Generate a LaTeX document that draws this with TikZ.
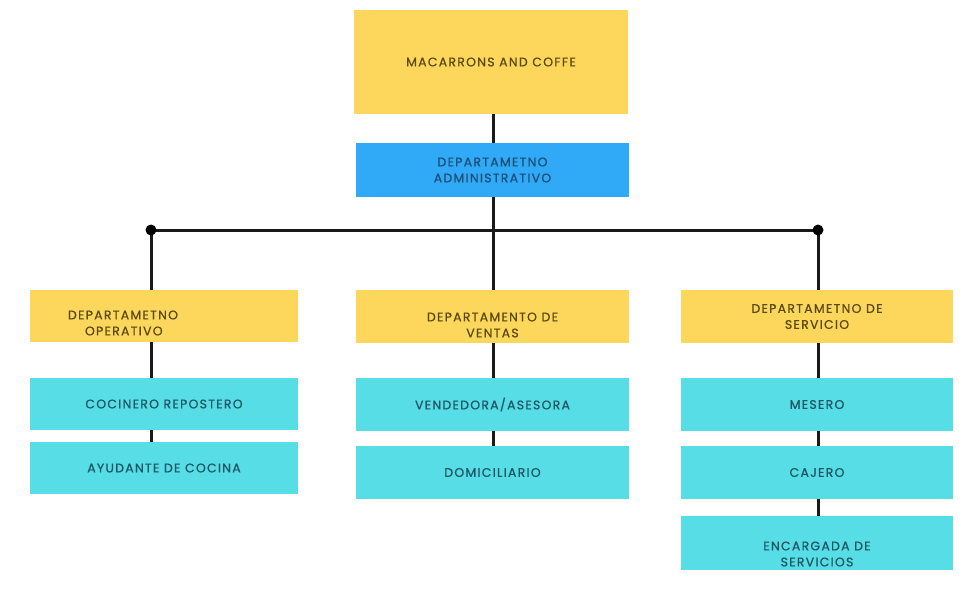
\documentclass[tikz,border=0pt]{standalone}
\usepackage{fontspec}
\setmainfont{Poppins}[LetterSpace=10, FakeBold=0.7]
\begin{document}
\begin{tikzpicture}[x=1pt,y=-1pt,
  every node/.style={inner sep=0pt, outer sep=0pt, font=\fontsize{12.5}{16}\selectfont, align=center},
  ybox/.style={fill=myyellow, text=ytext, minimum width=272pt, minimum height=53pt},
  bbox/.style={fill=myblue, text=btext, minimum width=273pt, minimum height=54pt},
  cbox/.style={fill=mycyan, text=ctext, minimum width=272pt, minimum height=53pt},
  link/.style={line width=3pt, draw=black!90},
  dot/.style={circle, fill=black, minimum size=11pt}
]
\definecolor{myyellow}{HTML}{FDD75C}
\definecolor{myblue}{HTML}{30AAF6}
\definecolor{mycyan}{HTML}{56DDE6}
\definecolor{ytext}{HTML}{5A4A14}
\definecolor{btext}{HTML}{1C4E78}
\definecolor{ctext}{HTML}{1E5664}
\useasboundingbox[fill=white] (0,0) rectangle (971,590);

\node[fill=myyellow, text=ytext, minimum width=274pt, minimum height=104pt] (top) at (491,62) {MACARRONS AND COFFE};
\node[bbox] (adm) at (492.5,170) {DEPARTAMETNO\\ADMINISTRATIVO};

\coordinate (jl) at (151,230);
\coordinate (jm) at (493,230);
\coordinate (jr) at (818,230);

% left column
\node[ybox, minimum width=268pt, minimum height=52pt] (dop) at (164,316) {};
\node[text=ytext, align=left] (dopt) at (123,323) {DEPARTAMETNO\\\hspace*{17pt}OPERATIVO};
\node[cbox, minimum width=268pt, minimum height=52pt] (coc) at (164,404) {COCINERO REPOSTERO};
\node[cbox, minimum width=268pt, minimum height=52pt] (ayu) at (164,468) {AYUDANTE DE COCINA};

% middle column
\node[ybox, minimum width=273pt] (ven) at (492.5,316.5) {};
\node[text=ytext] (vent) at (492.5,325) {DEPARTAMENTO DE\\VENTAS};
\node[cbox, minimum width=273pt] (vend) at (492.5,404.5) {VENDEDORA/ASESORA};
\node[cbox, minimum width=273pt] (dom) at (492.5,472.5) {DOMICILIARIO};

% right column
\node[ybox] (ser) at (817,316.5) {DEPARTAMETNO DE\\SERVICIO};
\node[cbox] (mes) at (817,404.5) {MESERO};
\node[cbox] (caj) at (817,472.5) {CAJERO};
\node[cbox, minimum height=54pt] (enc) at (817,543) {};
\node[text=ctext] (enct) at (817,554) {ENCARGADA DE\\SERVICIOS};

% connectors
\draw[link] (top.south -| jm) -- (adm.north -| jm);
\draw[link] (adm.south -| jm) -- (jm);
\draw[link] (jl) -- (jr);
\draw[link] (jl) -- (dop.north -| jl);
\draw[link] (jm) -- (ven.north -| jm);
\draw[link] (jr) -- (ser.north -| jr);
\draw[link] (dop.south -| jl) -- (coc.north -| jl);
\draw[link] (coc.south -| jl) -- (ayu.north -| jl);
\draw[link] (ven.south -| jm) -- (vend.north -| jm);
\draw[link] (vend.south -| jm) -- (dom.north -| jm);
\draw[link] (ser.south -| jr) -- (mes.north -| jr);
\draw[link] (mes.south -| jr) -- (caj.north -| jr);
\draw[link] (caj.south -| jr) -- (enc.north -| jr);
\node[dot] (dl) at (jl) {};
\node[dot] (dr) at (jr) {};
\end{tikzpicture}
\end{document}
